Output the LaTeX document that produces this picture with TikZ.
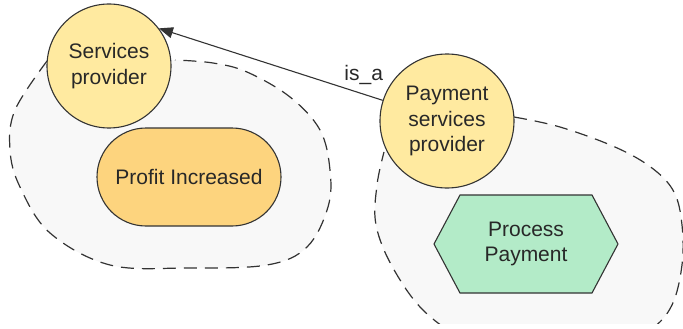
\documentclass[tikz,border=0pt]{standalone}
\usepackage{fontspec}
\setmainfont{Liberation Sans}
\usetikzlibrary{arrows.meta}
\definecolor{circfill}{RGB}{255,234,160}
\definecolor{profitfill}{RGB}{253,212,126}
\definecolor{hexfill}{RGB}{179,235,200}
\definecolor{blobfill}{RGB}{248,248,248}
\definecolor{edge}{RGB}{51,51,51}
\definecolor{txt}{RGB}{40,40,40}
\tikzset{
  actor/.style={circle, draw=edge, line width=1.1pt, fill=circfill, inner sep=0pt, align=center, text=txt, font=\fontsize{21}{25.5}\selectfont},
  goal/.style={rectangle, rounded corners=49pt, draw=edge, line width=1.1pt, fill=profitfill, inner sep=0pt, minimum width=184pt, minimum height=98pt, text=txt, font=\fontsize{21}{25.5}\selectfont},
  hexbox/.style={draw=edge, line width=1.1pt, fill=hexfill},
  hextext/.style={align=center, text=txt, font=\fontsize{21}{25.5}\selectfont},
  blob/.style={draw=edge, line width=1.2pt, fill=blobfill, dash pattern=on 13pt off 8pt},
  rel/.style={draw=edge, line width=1.1pt, -{Triangle[length=14pt,width=11pt]}},
  rellabel/.style={text=txt, font=\fontsize{21}{25}\selectfont}
}
\begin{document}
\begin{tikzpicture}[x=1pt,y=-1pt]
\useasboundingbox (0,0) rectangle (683,329);
% left boundary
\path[blob] plot[smooth, tension=0.6] coordinates {(47,61) (15,110) (10,150) (20,187) (50,233) (110,265) (187,268) (267,265) (307,247) (328,207) (330,170) (320,130) (290,97) (247,72) (213,63) (175,60)};
% right boundary
\begin{scope}
\clip (0,0) rectangle (683,323);
\path[blob] plot[smooth, tension=0.6] coordinates {(514,117) (560,127) (615,147) (652,168) (674,192) (682,225) (682,265) (672,305) (650,330) (610,348) (540,352) (470,340) (425,312) (393,268) (376,225) (377,185) (384,152)};
\end{scope}
% nodes
\node[actor, minimum size=124pt] (svc) at (109,66) {Services\\provider};
\node[actor, minimum size=134pt] (pay) at (447,121) {Payment\\services\\provider};
\node[goal] (profit) at (189,177) {Profit Increased};
\path[hexbox] (434,244) -- (460,195) -- (592,195) -- (618,244) -- (592,293) -- (460,293) -- cycle;
\node[hextext] (proc) at (526,244) {Process\\Payment};
% relation
\draw[rel] (pay) -- (svc.37) node[rellabel, pos=0.085, above=6pt] (isa) {is\_a};
\end{tikzpicture}
\end{document}
